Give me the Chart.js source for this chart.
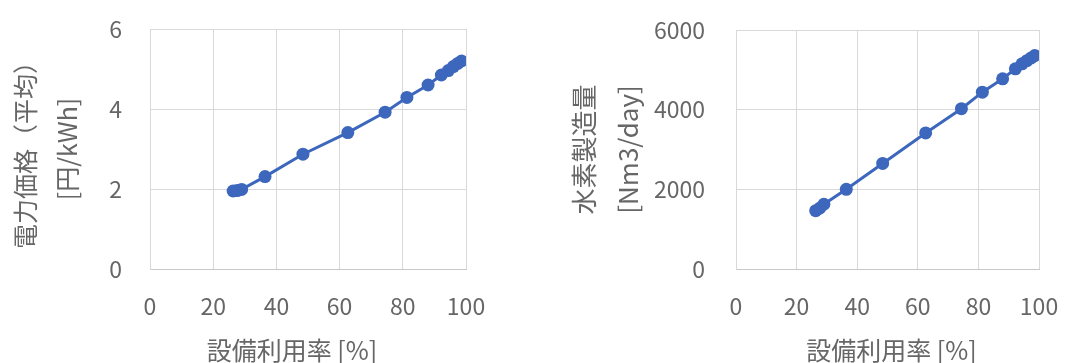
<!DOCTYPE html>
<html lang="ja">
<head>
<meta charset="utf-8">
<title>設備利用率と電力価格・水素製造量</title>
<script src="https://cdn.jsdelivr.net/npm/chart.js@4/dist/chart.umd.min.js"></script>
<style>
  html, body { margin: 0; padding: 0; background: #ffffff; }
  body { width: 1072px; height: 363px; position: relative; overflow: hidden; }
  .panel { position: absolute; top: 0; width: 536px; height: 363px; }
  #left { left: 0; }
  #right { left: 536px; }
</style>
</head>
<body>
<div class="panel" id="left"><canvas id="priceChart" width="536" height="363"></canvas></div>
<div class="panel" id="right"><canvas id="h2Chart" width="536" height="363"></canvas></div>
<script>
// Utilization rate of the plant [%]
const utilization = [26.3, 27.6, 29.0, 36.4, 48.4, 62.6, 74.4, 81.3, 88.0, 92.2, 94.4, 96.0, 97.4, 98.6];
// Average electricity price [円/kWh]
const avgPrice = [1.95, 1.96, 1.99, 2.31, 2.87, 3.41, 3.92, 4.29, 4.60, 4.85, 4.96, 5.06, 5.14, 5.20];
// Hydrogen production [Nm3/day]
const h2Output = [1465, 1525, 1625, 2000, 2650, 3415, 4025, 4440, 4775, 5025, 5150, 5230, 5300, 5360];

const xTicks = [0, 20, 40, 60, 80, 100];
const priceTicks = [0, 2, 4, 6];
const h2Ticks = [0, 2000, 4000, 6000];

const xTitle = '設備利用率 [%]';
const priceTitle = ['電力価格（平均）', '[円/kWh]'];
const h2Title = ['水素製造量', '[Nm3/day]'];

const FONT = '"Noto Sans CJK JP", "Noto Sans", sans-serif';
const TEXT = '#666666';
const GRID = '#d9d9d9';
const BLUE = '#3d67bd';

function points(xs, ys) {
  return xs.map((x, i) => ({ x: x, y: ys[i] }));
}

// Draws the horizontal axis title below the tick labels
const xTitlePlugin = {
  id: 'xTitle',
  afterDraw(chart, args, opts) {
    const { ctx, chartArea } = chart;
    ctx.save();
    ctx.font = `25px ${FONT}`;
    ctx.fillStyle = TEXT;
    ctx.textAlign = 'center';
    ctx.textBaseline = 'middle';
    ctx.fillText(opts.text, (chartArea.left + chartArea.right) / 2 + opts.dx, opts.y);
    ctx.restore();
  }
};

function makeChart(canvasId, values, yTicks, yMax, title, cfg) {
  return new Chart(document.getElementById(canvasId), {
    type: 'scatter',
    data: {
      datasets: [{
        data: points(utilization, values),
        showLine: true,
        borderColor: BLUE,
        backgroundColor: BLUE,
        borderWidth: 3,
        pointRadius: 6.5,
        pointHoverRadius: 6.5,
        pointBorderWidth: 0
      }]
    },
    options: {
      responsive: false,
      animation: false,
      devicePixelRatio: 1,
      layout: { padding: { left: 0, top: cfg.top, right: cfg.right, bottom: 0 } },
      plugins: {
        legend: { display: false },
        tooltip: { enabled: false },
        xTitle: { text: xTitle, dx: cfg.titleDx, y: 350 }
      },
      scales: {
        x: {
          type: 'linear',
          min: 0,
          max: 100,
          afterBuildTicks(scale) { scale.ticks = xTicks.map(v => ({ value: v })); },
          afterFit(scale) {
            scale.height = 94;
            scale.paddingLeft = 0;
            scale.paddingRight = 0;
          },
          grid: { color: GRID, lineWidth: 1, drawTicks: false },
          border: { color: '#c8c8c8', width: 1 },
          ticks: {
            color: TEXT, padding: 23, font: { family: FONT, size: 23 },
            callback: v => String(v)
          }
        },
        y: {
          type: 'linear',
          min: 0,
          max: yMax,
          afterBuildTicks(scale) { scale.ticks = yTicks.map(v => ({ value: v })); },
          afterFit(scale) {
            scale.width = cfg.yWidth;
            scale.paddingTop = 0;
            scale.paddingBottom = 0;
          },
          grid: { color: GRID, lineWidth: 1, drawTicks: false },
          border: { color: GRID, width: 1 },
          ticks: {
            color: TEXT, padding: cfg.tickPad, font: { family: FONT, size: 23 },
            callback: v => String(v)
          },
          title: {
            display: true,
            text: title,
            color: TEXT,
            font: { family: FONT, size: cfg.titleSize, lineHeight: cfg.titleLH },
            padding: { top: cfg.titlePad, bottom: 0 }
          }
        }
      }
    },
    plugins: [xTitlePlugin]
  });
}

makeChart('priceChart', avgPrice, priceTicks, 6, priceTitle,
  { top: 29, right: 70, yWidth: 150, tickPad: 28, titleSize: 25, titleLH: 1.7, titlePad: 4, titleDx: -16 });
makeChart('h2Chart', h2Output, h2Ticks, 6000, h2Title,
  { top: 30, right: 33, yWidth: 200, tickPad: 31, titleSize: 26, titleLH: 1.7, titlePad: 26, titleDx: 4 });
</script>
</body>
</html>
